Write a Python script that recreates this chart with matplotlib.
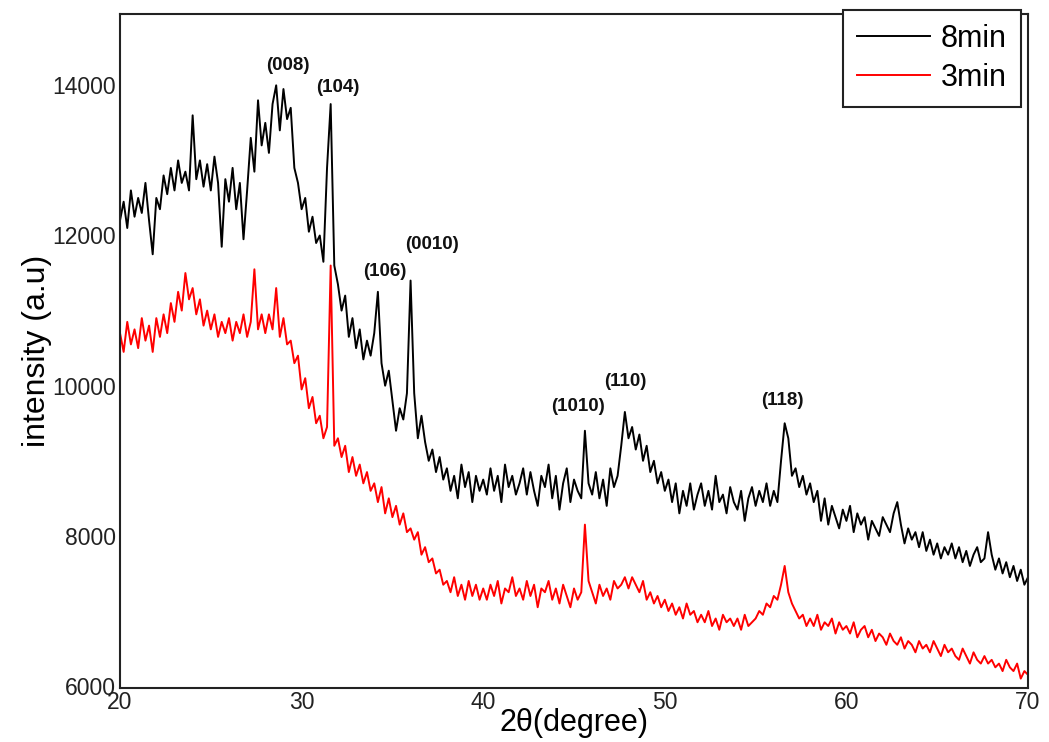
import matplotlib
matplotlib.use("Agg")
import matplotlib.pyplot as plt
import numpy as np

plt.rcParams['font.family'] = ['Liberation Sans', 'DejaVu Sans']

# 2theta grid (deg) of the hand-read points, 0.2 deg apart
two_theta = np.round(np.arange(20.0, 70.01, 0.2), 1)

# 8 min sample
i_8min = [
    12200, 12450, 12100, 12600, 12250, 12500, 12300, 12700, 12200, 11750,
    12500, 12350, 12800, 12550, 12900, 12600, 13000, 12700, 12850, 12600,
    13600, 12750, 13000, 12650, 12950, 12600, 13050, 12700, 11850, 12750,
    12450, 12900, 12350, 12700, 11950, 12600, 13300, 12850, 13800, 13200,
    13500, 13100, 13750, 14000, 13400, 13950, 13550, 13700, 12900, 12700,
    12350, 12500, 12050, 12250, 11900, 12000, 11650, 12900, 13750, 11600,
    11350, 11000, 11200, 10650, 10900, 10500, 10750, 10350, 10600, 10400,
    10700, 11250, 10300, 10000, 10200, 9800, 9400, 9700, 9550, 9900,
    11400, 9900, 9300, 9600, 9250, 9000, 9150, 8850, 9050, 8750,
    8900, 8600, 8800, 8500, 8950, 8650, 8850, 8450, 8800, 8600,
    8750, 8550, 8900, 8600, 8800, 8450, 8950, 8650, 8800, 8550,
    8700, 8900, 8550, 8850, 8600, 8400, 8800, 8650, 8950, 8500,
    8800, 8350, 8700, 8900, 8450, 8750, 8600, 8500, 9400, 8700,
    8550, 8850, 8500, 8750, 8400, 8900, 8650, 8800, 9200, 9650,
    9300, 9450, 9150, 9350, 9000, 9200, 8850, 9000, 8700, 8850,
    8600, 8750, 8450, 8700, 8300, 8600, 8400, 8700, 8350, 8550,
    8700, 8400, 8600, 8350, 8800, 8450, 8550, 8300, 8650, 8450,
    8350, 8600, 8200, 8500, 8650, 8400, 8600, 8450, 8700, 8400,
    8600, 8450, 9000, 9500, 9300, 8800, 8900, 8650, 8800, 8550,
    8700, 8450, 8600, 8200, 8500, 8150, 8400, 8250, 8100, 8350,
    8200, 8400, 8050, 8300, 8150, 8250, 7950, 8200, 8100, 8000,
    8250, 8150, 8050, 8300, 8450, 8150, 7900, 8100, 7950, 8050,
    7850, 8050, 7800, 7950, 7750, 7900, 7700, 7850, 7750, 7900,
    7700, 7850, 7650, 7800, 7600, 7750, 7850, 7650, 7700, 8050,
    7750, 7550, 7700, 7500, 7650, 7450, 7600, 7400, 7550, 7350,
    7450,
]

# 3 min sample
i_3min = [
    10700, 10450, 10850, 10550, 10750, 10500, 10900, 10600, 10800, 10450,
    10900, 10650, 10950, 10700, 11100, 10850, 11250, 11000, 11500, 11150,
    11300, 10950, 11150, 10800, 11000, 10750, 10950, 10650, 10850, 10700,
    10900, 10600, 10850, 10700, 10950, 10650, 10850, 11550, 10750, 10950,
    10700, 10950, 10750, 11300, 10650, 10900, 10550, 10600, 10300, 10400,
    9950, 10100, 9700, 9850, 9500, 9600, 9300, 9450, 11600, 9200,
    9300, 9050, 9200, 8850, 9050, 8800, 8950, 8700, 8850, 8600,
    8700, 8450, 8650, 8300, 8500, 8250, 8400, 8150, 8300, 8050,
    8100, 7950, 8050, 7750, 7850, 7650, 7700, 7500, 7550, 7350,
    7400, 7250, 7450, 7200, 7350, 7150, 7400, 7200, 7350, 7150,
    7300, 7150, 7350, 7200, 7400, 7100, 7300, 7250, 7450, 7200,
    7300, 7150, 7400, 7200, 7350, 7050, 7300, 7250, 7400, 7150,
    7300, 7100, 7350, 7200, 7050, 7300, 7150, 7250, 8150, 7400,
    7250, 7100, 7350, 7200, 7300, 7150, 7400, 7300, 7350, 7450,
    7300, 7450, 7350, 7250, 7400, 7150, 7250, 7100, 7200, 7050,
    7150, 7000, 7100, 6950, 7050, 6900, 7100, 6950, 7000, 6850,
    6950, 6850, 7000, 6800, 6900, 6750, 6950, 6850, 6900, 6800,
    6900, 6750, 6950, 6800, 6850, 6900, 7000, 6950, 7100, 7050,
    7200, 7150, 7350, 7600, 7250, 7100, 7000, 6900, 6950, 6800,
    6900, 6800, 6950, 6750, 6850, 6800, 6900, 6700, 6850, 6750,
    6800, 6700, 6850, 6650, 6750, 6800, 6650, 6750, 6600, 6700,
    6650, 6550, 6700, 6600, 6550, 6650, 6500, 6600, 6550, 6450,
    6600, 6500, 6550, 6450, 6600, 6500, 6400, 6550, 6450, 6500,
    6400, 6350, 6500, 6400, 6300, 6450, 6350, 6300, 6400, 6300,
    6350, 6250, 6300, 6200, 6350, 6250, 6200, 6300, 6100, 6200,
    6150,
]

# peak labels and where they sit
peak_names = ["(008)", "(104)", "(106)", "(0010)", "(1010)", "(110)", "(118)"]
peak_x = [29.25, 32.0, 34.6, 37.2, 45.2, 47.85, 56.5]
peak_y = [14270, 13970, 11520, 11880, 9720, 10050, 9800]

fig = plt.figure(figsize=(10.49, 7.42), dpi=100)
ax = fig.add_axes([0.1144, 0.0728, 0.8656, 0.9084])

ax.plot(two_theta, i_8min, color="black", linewidth=1.4, label="8min")
ax.plot(two_theta, i_3min, color="#ff0000", linewidth=1.4, label="3min")

for name, px, py in zip(peak_names, peak_x, peak_y):
    ax.text(px, py, name, ha="center", va="center", fontsize=13.5,
            fontweight="bold", color="#111111")

ax.set_xlim(20, 70)
ax.set_ylim(5975, 14950)
ax.set_xticks([20, 30, 40, 50, 60, 70])
ax.set_yticks([6000, 8000, 10000, 12000, 14000])
ax.tick_params(length=0, labelsize=16.5, colors="#222222")
ax.tick_params(axis="x", pad=2)
ax.tick_params(axis="y", pad=3)
for s in ax.spines.values():
    s.set_linewidth(1.5)
    s.set_color("#222222")

ax.set_xlabel("2θ(degree)", fontsize=22, labelpad=-4)
ax.set_ylabel("intensity (a.u)", fontsize=23, labelpad=0)

leg = ax.legend(loc="upper right", bbox_to_anchor=(0.973, 0.9865),
                bbox_transform=fig.transFigure, borderaxespad=0,
                fontsize=22, handlelength=2.4, fancybox=False,
                framealpha=1, edgecolor="#222222", borderpad=0.45,
                labelspacing=0.3, handletextpad=0.35)
leg.get_frame().set_linewidth(1.5)

fig.savefig("out.png", dpi=100)
